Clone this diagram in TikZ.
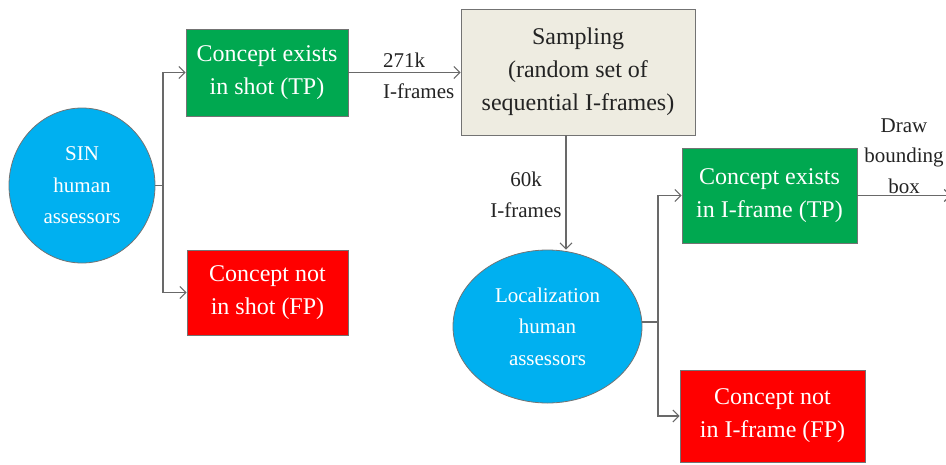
\documentclass[tikz,border=0pt]{standalone}
\usepackage{fontspec}
\setmainfont{Liberation Serif}
\usetikzlibrary{arrows.meta,shapes.geometric}

\definecolor{okgreen}{RGB}{0,168,80}
\definecolor{badred}{RGB}{255,0,0}
\definecolor{skyblue}{RGB}{0,176,240}
\definecolor{tan}{RGB}{238,236,225}
\definecolor{wire}{RGB}{105,105,105}
\definecolor{ink}{RGB}{35,35,35}

\tikzset{
  box/.style={rectangle, draw=black!55, line width=0.8pt, inner sep=0pt,
    align=center, font=\fontsize{24}{33}\selectfont},
  tpbox/.style={box, fill=okgreen, text=white},
  fpbox/.style={box, fill=badred, text=white},
  samplebox/.style={box, fill=tan, text=ink},
  assessor/.style={ellipse, draw=black!55, line width=0.8pt, fill=skyblue,
    text=white, inner sep=0pt, align=center, font=\fontsize{21}{31.5}\selectfont},
  lbl/.style={text=ink, inner sep=0pt, font=\fontsize{21}{30.5}\selectfont},
  conn/.style={draw=wire, line width=1.2pt,
    -{Straight Barb[length=6pt,width=12pt,line width=1.1pt]}},
  plain/.style={draw=wire, line width=1.2pt}
}

\begin{document}
\begin{tikzpicture}[x=1pt,y=-1pt]
\useasboundingbox (0,0) rectangle (946,464);

% first stage: shot-level judgements
\node[assessor, minimum width=146pt, minimum height=155pt] (sin) at (82,185.5)
  {SIN\\human\\assessors};
\node[tpbox, minimum width=162pt, minimum height=87pt] (tp1) at (267,72.5)
  {Concept exists\\in shot (TP)};
\node[fpbox, minimum width=161pt, minimum height=85pt] (fp1) at (267.5,292.5)
  {Concept not\\in shot (FP)};

% sampling of I-frames
\node[samplebox, minimum width=234pt, minimum height=126pt] (samp) at (578,72)
  {Sampling\\(random set of\\sequential I-frames)};

% second stage: frame-level judgements
\node[assessor, minimum width=189pt, minimum height=153pt] (loc) at (547.5,326.5)
  {Localization\\human\\assessors};
\node[tpbox, minimum width=175pt, minimum height=95pt] (tp2) at (769.5,195.5)
  {Concept exists\\in I-frame (TP)};
\node[fpbox, minimum width=185pt, minimum height=92pt] (fp2) at (772.5,416)
  {Concept not\\in I-frame (FP)};

% edge labels
\node[lbl, anchor=west, align=left] (l271) at (383,76) {271k\\I-frames};
\node[lbl, align=center] (l60) at (526,195) {60k\\I-frames};
\node[lbl, align=center] (ldraw) at (904,156) {Draw\\bounding\\box};

% junctions and the outgoing end
\coordinate (j1) at (163,185.5);
\coordinate (j2) at (658,322);
\coordinate (drop) at (566,135);
\coordinate (out) at (951,195.5);

% connectors
\draw[plain] (sin.east) -- (j1);
\draw[conn] (j1) |- (tp1.west);
\draw[conn] (j1) |- (fp1.west);
\draw[conn] (tp1.east) -- (tp1.east -| samp.west);
\draw[conn] (drop) -- (drop |- loc.north);
\draw[plain] (loc.east |- j2) -- (j2);
\draw[conn] (j2) |- (tp2.west);
\draw[conn] (j2) |- (fp2.west);
\draw[conn] (tp2.east) -- (out);
\end{tikzpicture}
\end{document}
